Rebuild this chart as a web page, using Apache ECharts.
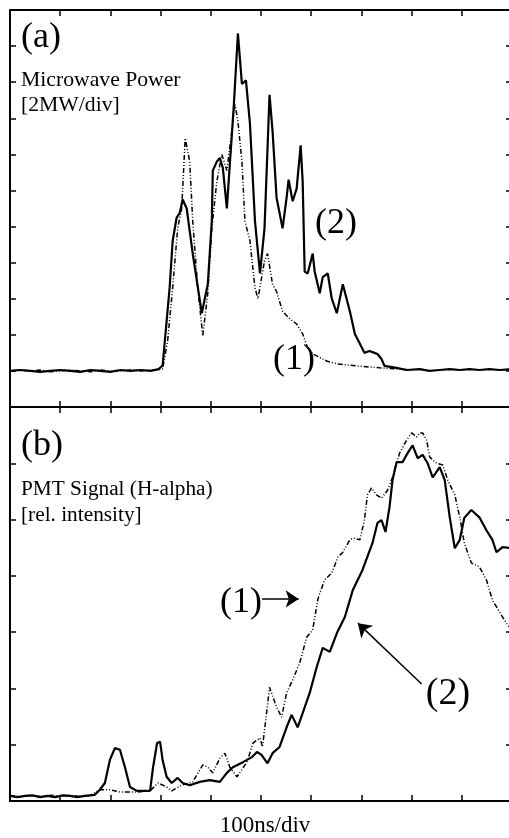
<!DOCTYPE html>
<html>
<head>
<meta charset="utf-8">
<script src="https://cdn.jsdelivr.net/npm/echarts/dist/echarts.min.js"></script>
<style>
html,body{margin:0;padding:0;background:#fff;}
#c{width:509px;height:838px;}
</style>
</head>
<body>
<div id="c"></div>
<script>
// time in ns (100 ns / div), microwave power in MW (2 MW / div)
const microwave1 = [
[0,0],[20,0.05],[40,0],[60,0.05],[80,-0.05],[100,0],[120,0.05],[140,0],[160,-0.05],[180,0.05],[200,0],[220,0],[240,0.05],[260,0],[280,0.05],[296,0.05],[304,0.1],[314,1.66],[324,4.6],[334,7.9],[342,9.0],[349,12.9],[358,11.6],[364,8.3],[374,4.6],[384,1.94],[394,4.3],[402,7.9],[412,10.5],[422,12.0],[432,11.1],[442,13.3],[448,14.8],[454,13.85],[462,11.6],[468,8.3],[478,7.2],[488,4.6],[494,4.0],[507,6.1],[513,6.5],[523,4.8],[531,4.4],[543,3.3],[557,2.9],[571,2.6],[583,2.05],[593,1.27],[603,0.94],[631,0.55],[651,0.39],[691,0.28],[736,0.17],[776,0.1],[800,0.05]
];
const microwave2 = [
[0,0],[20,0.05],[40,0],[60,-0.05],[80,0],[100,0.05],[120,0],[140,-0.05],[160,0.05],[180,0],[200,-0.05],[220,0.05],[240,0],[260,0.05],[280,0],[296,0.1],[304,0.3],[318,4.6],[324,7.2],[332,8.5],[338,8.75],[344,9.5],[352,9.0],[364,6.5],[382,3.2],[394,4.8],[402,8.3],[404,11.1],[412,11.6],[418,11.8],[424,11.25],[432,9.0],[438,11.5],[442,13.1],[446,14.8],[454,18.7],[462,15.9],[470,16.1],[478,13.7],[488,8.3],[498,5.4],[507,7.9],[517,15.3],[523,13.3],[531,9.6],[543,7.9],[551,9.6],[555,10.6],[563,9.4],[571,10.1],[579,12.5],[583,10.5],[587,5.5],[593,5.4],[603,6.5],[607,5.5],[617,4.3],[623,5.2],[633,5.4],[641,4.0],[651,3.2],[663,4.8],[677,3.3],[687,2.05],[697,1.5],[706,1.0],[716,1.1],[726,1.0],[732,0.94],[740,0.66],[746,0.28],[770,0.17],[790,0.05],[816,0.1],[836,0.0],[856,0.05],[876,0.1],[896,0.05],[916,0.1],[935,0.05],[955,0.1],[975,0.05],[1000,0.1]
];
// PMT signal, relative intensity (divisions)
const pmt1 = [
[0,0.1],[20,0.08],[40,0.1],[60,0.08],[80,0.1],[100,0.09],[120,0.1],[140,0.08],[160,0.1],[179,0.2],[199,0.2],[219,0.16],[253,0.16],[279,0.18],[295,0.32],[312,0.25],[322,0.18],[342,0.28],[364,0.34],[384,0.64],[394,0.6],[404,0.5],[418,0.76],[428,0.85],[438,0.6],[452,0.43],[472,0.69],[484,1.03],[498,1.12],[503,0.96],[511,1.56],[517,2.02],[531,1.67],[541,1.49],[551,1.92],[563,2.15],[577,2.45],[591,2.91],[603,3.04],[613,3.57],[617,3.69],[627,3.93],[641,4.05],[653,4.33],[663,4.42],[677,4.64],[683,4.67],[697,4.64],[706,4.99],[712,5.44],[720,5.56],[730,5.44],[740,5.38],[752,5.52],[762,5.75],[776,6.18],[790,6.41],[800,6.54],[810,6.47],[816,6.54],[822,6.54],[830,6.41],[836,6.11],[850,6.0],[862,5.97],[872,5.7],[886,5.44],[896,5.04],[905,4.58],[919,4.23],[935,4.16],[949,3.93],[961,3.57],[975,3.36],[991,3.13],[1000,3.05]
];
const pmt2 = [
[0,0.09],[15,0.07],[30,0.09],[45,0.1],[60,0.07],[75,0.09],[90,0.07],[105,0.1],[119,0.09],[134,0.07],[149,0.09],[169,0.11],[179,0.2],[189,0.32],[199,0.73],[209,0.94],[219,0.91],[229,0.6],[239,0.25],[253,0.18],[279,0.18],[285,0.6],[293,1.03],[299,1.05],[304,0.73],[312,0.43],[322,0.32],[334,0.41],[344,0.32],[358,0.28],[378,0.34],[398,0.37],[418,0.34],[432,0.5],[444,0.6],[464,0.69],[482,0.78],[492,0.87],[501,0.82],[513,0.67],[523,0.85],[537,0.96],[551,1.31],[561,1.53],[573,1.31],[583,1.56],[597,1.92],[611,2.38],[623,2.72],[637,2.65],[651,2.98],[667,3.27],[683,3.75],[702,4.1],[722,4.58],[732,4.94],[740,4.99],[748,4.78],[756,5.22],[762,5.7],[770,6.02],[782,6.02],[792,6.18],[802,6.32],[812,6.09],[822,6.15],[832,6.0],[842,5.75],[856,5.93],[866,5.7],[876,5.04],[886,4.49],[896,4.64],[905,5.03],[919,5.17],[935,5.04],[949,4.81],[961,4.64],[969,4.42],[981,4.51],[1000,4.49]
];
// arrow annotations (data coordinates of panel b)
const arrow1 = [[502,3.59],[575,3.59]];
const arrow2 = [[820,2.08],[693,3.16]];

const SERIF = '"Liberation Serif","Times New Roman",serif';
const dashDot = [5,2,1,2,1,2];

function xAx(gridIndex, position, extra) {
  return Object.assign({
    type:'value', gridIndex, position, min:0, max:1000, interval:100,
    axisLine:{show:true, onZero:false, lineStyle:{color:'#000', width:2}},
    axisTick:{show:true, inside:true, length:6, lineStyle:{color:'#000', width:1.5}},
    axisLabel:{show:false}, splitLine:{show:false}
  }, extra || {});
}
function yAx(gridIndex, position, min, max, interval, showLine) {
  return {
    type:'value', gridIndex, position, min, max, interval,
    axisLine:{show:showLine, onZero:false, lineStyle:{color:'#000', width:2}},
    axisTick:{show:true, inside:true, length:6, lineStyle:{color:'#000', width:1.5}},
    axisLabel:{show:false}, splitLine:{show:false}
  };
}

const chart = echarts.init(document.getElementById('c'));
chart.setOption({
  animation:false,
  backgroundColor:'#fff',
  grid:[
    {left:10, top:10, width:502, height:397, outerBoundsMode:'none', containLabel:false},
    {left:10, top:407, width:502, height:394, outerBoundsMode:'none', containLabel:false}
  ],
  xAxis:[
    xAx(0,'bottom'),
    xAx(0,'top'),
    xAx(1,'top'),
    xAx(1,'bottom',{name:'100ns/div', nameLocation:'middle', nameGap:13,
      nameTextStyle:{fontFamily:SERIF, fontSize:23, color:'#000', padding:[0,0,0,8]}})
  ],
  yAxis:[
    yAx(0,'left',-2,20,2,true),
    yAx(0,'right',-2,20,2,false),
    yAx(1,'left',0,7,1,true),
    yAx(1,'right',0,7,1,false)
  ],
  series:[
    {type:'line', xAxisIndex:0, yAxisIndex:0, data:microwave1, symbol:'none',
     lineStyle:{color:'#000', width:1.5, type:dashDot}},
    {type:'line', xAxisIndex:0, yAxisIndex:0, data:microwave2, symbol:'none',
     lineStyle:{color:'#000', width:2.2}},
    {type:'line', xAxisIndex:3, yAxisIndex:2, data:pmt1, symbol:'none',
     lineStyle:{color:'#000', width:1.5, type:dashDot},
     markLine:{silent:true, symbol:['none','arrow'], symbolSize:13,
       label:{show:false},
       lineStyle:{color:'#000', width:1.5, type:'solid'},
       emphasis:{disabled:true},
       data:[
         [{coord:arrow1[0]},{coord:arrow1[1]}],
         [{coord:arrow2[0]},{coord:arrow2[1]}]
       ]}},
    {type:'line', xAxisIndex:3, yAxisIndex:2, data:pmt2, symbol:'none',
     lineStyle:{color:'#000', width:2.2}}
  ],
  graphic:[
    {type:'text', x:21, y:38, style:{text:'(a)', font:'36px '+SERIF, fill:'#000', verticalAlign:'middle'}},
    {type:'text', x:21, y:80, style:{text:'Microwave Power', font:'21.7px '+SERIF, fill:'#000', verticalAlign:'middle'}},
    {type:'text', x:21, y:105, style:{text:'[2MW/div]', font:'21.7px '+SERIF, fill:'#000', verticalAlign:'middle'}},
    {type:'text', x:336, y:224, style:{text:'(2)', font:'36px '+SERIF, fill:'#000', align:'center', verticalAlign:'middle'}},
    {type:'text', x:294, y:360, style:{text:'(1)', font:'36px '+SERIF, fill:'#000', align:'center', verticalAlign:'middle'}},
    {type:'text', x:21, y:446, style:{text:'(b)', font:'36px '+SERIF, fill:'#000', verticalAlign:'middle'}},
    {type:'text', x:21, y:489, style:{text:'PMT Signal (H-alpha)', font:'21.3px '+SERIF, fill:'#000', verticalAlign:'middle'}},
    {type:'text', x:21, y:515, style:{text:'[rel. intensity]', font:'21.3px '+SERIF, fill:'#000', verticalAlign:'middle'}},
    {type:'text', x:241, y:603, style:{text:'(1)', font:'36px '+SERIF, fill:'#000', align:'center', verticalAlign:'middle'}},
    {type:'text', x:448, y:694, style:{text:'(2)', font:'38px '+SERIF, fill:'#000', align:'center', verticalAlign:'middle'}}
  ]
});
</script>
</body>
</html>
